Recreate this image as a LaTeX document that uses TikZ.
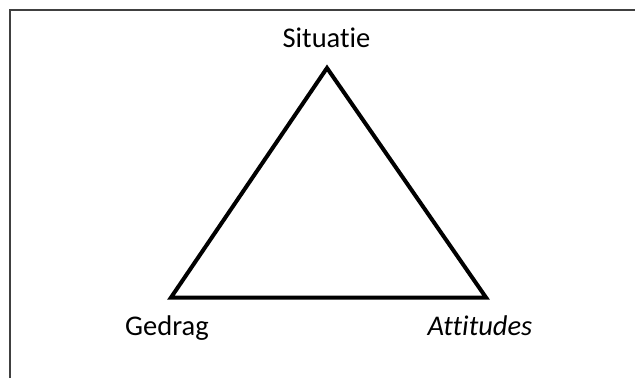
\documentclass[tikz,border=0pt]{standalone}
\usepackage{fontspec}
\setmainfont{Carlito}[Ligatures={NoCommon,NoContextual}]
\begin{document}
\begin{tikzpicture}[x=1pt,y=-1pt,
  frame/.style={line width=2.2pt, draw=black!75},
  tri/.style={line width=4pt, draw=black, line join=miter},
  lbl/.style={anchor=base, inner sep=0pt, font=\fontsize{28.5}{34}\selectfont}]
\useasboundingbox (0,0) rectangle (635,378);
\fill[white] (0,0) rectangle (635,378);
\coordinate (fb) at (10,378);
\coordinate (fc) at (10,10);
\coordinate (fr) at (635,10);
\draw[frame] (fb) -- (fc) -- (fr);
\coordinate (S) at (327,68);
\coordinate (G) at (171,297.5);
\coordinate (A) at (486,297.5);
\draw[tri] (S) -- (G) -- (A) -- cycle;
\node[lbl] (ls) at (326.5,47) {Situatie};
\node[lbl] (lg) at (167,335) {Gedrag};
\node[lbl] (la) at (480,335) {\itshape Attitudes};
\end{tikzpicture}
\end{document}
